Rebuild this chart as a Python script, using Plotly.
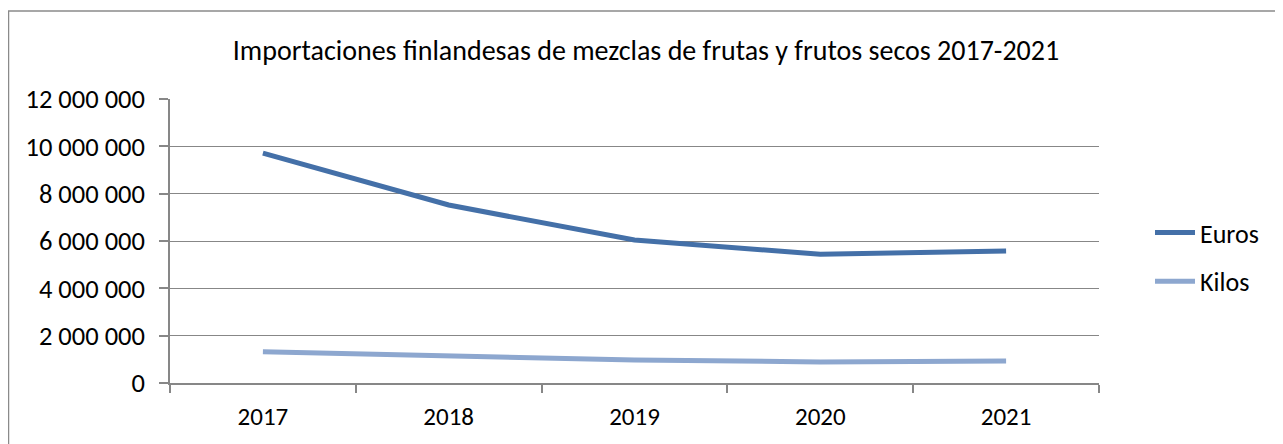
import plotly.graph_objects as go

years = ["2017", "2018", "2019", "2020", "2021"]
euros = [9710000, 7520000, 6040000, 5440000, 5580000]
kilos = [1320000, 1120000, 970000, 890000, 930000]
y_ticks = [0, 2000000, 4000000, 6000000, 8000000, 10000000, 12000000]

title_text = "Importaciones finlandesas de mezclas de frutas y frutos secos 2017-2021"
FONT = "Carlito, Calibri, Lato, sans-serif"
GRID = "#878787"

fig = go.Figure()
fig.add_trace(go.Scatter(x=years, y=euros, name="Euros", mode="lines", legendgroup="e",
                         line=dict(color="#4470A8", width=5)))
fig.add_trace(go.Scatter(x=years, y=kilos, name="Kilos", mode="lines", legendgroup="k",
                         line=dict(color="#8DA7CF", width=5)))

# page has an 8px body margin: work in figure coords = page coords - 8
OFF = 8
W, H = 1283 - OFF, 444 - OFF
L, T = 170 - OFF, 99 - OFF
pw, ph = 929, 284
R, B = W - L - pw, H - T - ph

def px(xp):  # page x -> paper
    return (xp - OFF - L) / pw

def py(yp):  # page y -> paper
    return (T + ph - (yp - OFF)) / ph

# outer chart frame (left at x=7, top at y=11, extends past the page)
fig.add_shape(type="rect", xref="paper", yref="paper",
              x0=px(8.5), x1=px(1300), y0=py(470), y1=py(11),
              line=dict(color="#8a8a8a", width=1.5), fillcolor="rgba(0,0,0,0)",
              layer="below")

fig.update_layout(
    width=W, height=H,
    margin=dict(l=L, r=R, t=T, b=B),
    paper_bgcolor="white", plot_bgcolor="white",
    separators=", ",
    font=dict(family=FONT, size=26, color="black"),
    title=dict(text=title_text, x=(646 - OFF) / W, xanchor="center", xref="container",
               y=1 - (50 - OFF) / H, yanchor="middle", yref="container",
               font=dict(family=FONT, size=28, color="black")),
    showlegend=True,
    legend=dict(x=px(1150), xanchor="left", y=py(209), yanchor="top",
                font=dict(family=FONT, size=26, color="black"),
                tracegroupgap=12, itemwidth=40, bgcolor="rgba(0,0,0,0)"),
    xaxis=dict(type="category", range=[-0.5, 4.5], tickson="boundaries",
               ticks="outside", ticklen=8, tickcolor=GRID, tickwidth=1.5,
               showline=True, linecolor=GRID, linewidth=1.5, showgrid=False,
               tickfont=dict(family=FONT, size=25), ticklabelstandoff=10),
    yaxis=dict(range=[0, 12000000], tickvals=y_ticks, tickformat=",d",
               ticks="outside", ticklen=9, tickcolor=GRID, tickwidth=1.5,
               showline=True, linecolor=GRID, linewidth=1.5,
               showgrid=True, gridcolor=GRID, gridwidth=1.2, zeroline=False,
               tickfont=dict(family=FONT, size=26.5), ticklabelstandoff=9),
)

fig.write_html("out.html")
